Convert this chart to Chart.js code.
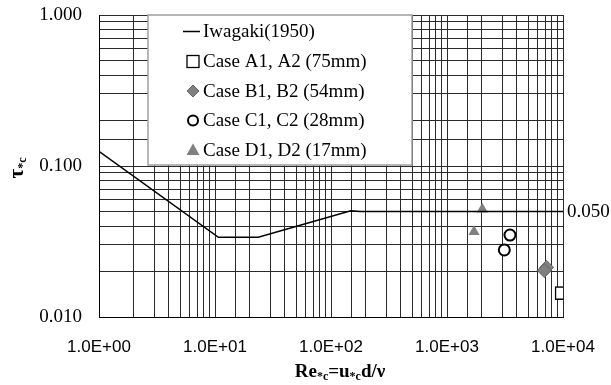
<!DOCTYPE html>
<html>
<head>
<meta charset="utf-8">
<script src="https://cdn.jsdelivr.net/npm/chart.js@4.4.1/dist/chart.umd.min.js"></script>
<style>
  html, body { margin: 0; padding: 0; background: #fff; }
  #wrap { width: 611px; height: 385px; position: relative; }
</style>
</head>
<body>
<div id="wrap"><canvas id="c"></canvas></div>
<script>
// 이와가키 곡선 (Re*c, τ*c)
const iwagakiRe  = [1, 10.7, 23.6, 148, 178, 10000];
const iwagakiTau = [0.125, 0.0337, 0.0337, 0.0506, 0.050, 0.050];

// 실험 케이스 (두 점씩)
const caseARe  = [9750, 9720];
const caseATau = [0.01435, 0.0144];
const caseBRe  = [7230, 6900];
const caseBTau = [0.0213, 0.0203];
const caseCRe  = [3490, 3120];
const caseCTau = [0.0349, 0.0278];
const caseDRe  = [2015, 1710];
const caseDTau = [0.0517, 0.0367];

const legendLabels = [
  'Iwagaki(1950)',
  'Case A1, A2 (75mm)',
  'Case B1, B2 (54mm)',
  'Case C1, C2 (28mm)',
  'Case D1, D2 (17mm)',
];
const refLevel = 0.05;
const refLabel = '0.050';

const SERIF = '"Liberation Serif", "Times New Roman", serif';
const SANS = '"Liberation Sans", Arial, sans-serif';

function pts(xs, ys) {
  return xs.map((x, i) => ({ x, y: ys[i] }));
}

function isPow10(v) {
  const l = Math.log10(v);
  return Math.abs(l - Math.round(l)) < 1e-9;
}

// 스케일이 요구하는 여백 제거 → 차트 영역을 padding 으로만 결정
function zeroPad(s) {
  s.paddingTop = 0;
  s.paddingBottom = 0;
  s.paddingLeft = 0;
  s.paddingRight = 0;
}

// 범례 기호 직접 그리기
function drawSymbol(ctx, kind, x, y) {
  ctx.save();
  if (kind === 'line') {
    ctx.strokeStyle = '#000';
    ctx.lineWidth = 1.5;
    ctx.beginPath();
    ctx.moveTo(x - 10, y);
    ctx.lineTo(x + 7, y);
    ctx.stroke();
  } else if (kind === 'square') {
    ctx.fillStyle = '#fff';
    ctx.strokeStyle = '#000';
    ctx.lineWidth = 1.3;
    ctx.fillRect(x - 6, y - 6, 12, 12);
    ctx.strokeRect(x - 6, y - 6, 12, 12);
  } else if (kind === 'diamond') {
    ctx.fillStyle = '#808080';
    ctx.strokeStyle = '#666';
    ctx.lineWidth = 1;
    ctx.beginPath();
    ctx.moveTo(x, y - 6);
    ctx.lineTo(x + 6, y);
    ctx.lineTo(x, y + 6);
    ctx.lineTo(x - 6, y);
    ctx.closePath();
    ctx.fill();
    ctx.stroke();
  } else if (kind === 'circle') {
    ctx.strokeStyle = '#000';
    ctx.lineWidth = 2;
    ctx.beginPath();
    ctx.arc(x, y, 5, 0, Math.PI * 2);
    ctx.stroke();
  } else if (kind === 'triangle') {
    ctx.fillStyle = '#808080';
    ctx.beginPath();
    ctx.moveTo(x, y - 6.5);
    ctx.lineTo(x + 6.5, y + 5);
    ctx.lineTo(x - 6.5, y + 5);
    ctx.closePath();
    ctx.fill();
  }
  ctx.restore();
}

// 아래첨자 포함 텍스트 조각 그리기
function drawRich(ctx, parts, x, y, align) {
  let total = 0;
  parts.forEach(p => { ctx.font = p.font; total += ctx.measureText(p.t).width; });
  let cx = align === 'center' ? x - total / 2 : x;
  parts.forEach(p => {
    ctx.font = p.font;
    ctx.fillText(p.t, cx, y + (p.dy || 0));
    cx += ctx.measureText(p.t).width;
  });
}

const decorPlugin = {
  id: 'decor',
  afterDatasetsDraw(chart) {
    const { ctx, chartArea, scales } = chart;
    ctx.save();

    // 범례 박스
    const bx = 148, by = chartArea.top, bw = 264, bh = 150;
    ctx.fillStyle = '#fff';
    ctx.fillRect(bx, by, bw, bh);
    ctx.strokeStyle = '#a0a0a0';
    ctx.lineWidth = 1.5;
    ctx.strokeRect(bx, by, bw, bh);

    const kinds = ['line', 'square', 'diamond', 'circle', 'triangle'];
    const rowY = [31.5, 61.5, 91, 120.5, 150];
    ctx.textBaseline = 'middle';
    ctx.textAlign = 'left';
    kinds.forEach((k, i) => {
      drawSymbol(ctx, k, 193, rowY[i]);
      ctx.fillStyle = '#000';
      ctx.font = '19px ' + SERIF;
      ctx.fillText(legendLabels[i], 203, rowY[i] + 1);
    });

    // 0.050 라벨
    ctx.fillStyle = '#000';
    ctx.font = '19px ' + SERIF;
    ctx.fillText(refLabel, chartArea.right + 4, scales.y.getPixelForValue(refLevel) + 1);

    // x축 제목
    ctx.textBaseline = 'alphabetic';
    const big = 'bold 19px ' + SERIF;
    const sub = 'bold 12px ' + SERIF;
    drawRich(ctx, [
      { t: 'Re', font: big },
      { t: '*c', font: sub, dy: 3 },
      { t: '=u', font: big },
      { t: '*c', font: sub, dy: 3 },
      { t: 'd/ν', font: big },
    ], 340, 377, 'center');

    // y축 제목 (회전)
    ctx.translate(23, 168);
    ctx.rotate(-Math.PI / 2);
    drawRich(ctx, [
      { t: 'τ', font: 'bold 21px ' + SERIF },
      { t: '*c', font: 'bold 12px ' + SERIF, dy: 3 },
    ], 0, 0, 'center');

    ctx.restore();
  },
};

new Chart(document.getElementById('c'), {
  type: 'scatter',
  data: {
    datasets: [
      {
        label: legendLabels[0],
        data: pts(iwagakiRe, iwagakiTau),
        showLine: true,
        borderColor: '#000',
        borderWidth: 1.5,
        pointRadius: 0,
        tension: 0,
      },
      {
        label: legendLabels[1],
        data: pts(caseARe, caseATau),
        pointStyle: 'rect',
        pointRadius: 8.5,
        backgroundColor: '#fff',
        borderColor: '#000',
        borderWidth: 1.3,
      },
      {
        label: legendLabels[2],
        data: pts(caseBRe, caseBTau),
        pointStyle: 'rectRot',
        pointRadius: 7,
        backgroundColor: '#808080',
        borderColor: '#666',
        borderWidth: 1,
      },
      {
        label: legendLabels[3],
        data: pts(caseCRe, caseCTau),
        pointStyle: 'circle',
        pointRadius: 5.5,
        backgroundColor: '#fff',
        borderColor: '#000',
        borderWidth: 2,
      },
      {
        label: legendLabels[4],
        data: pts(caseDRe, caseDTau),
        pointStyle: 'triangle',
        pointRadius: 6.5,
        backgroundColor: '#808080',
        borderColor: '#808080',
        borderWidth: 0,
      },
    ],
  },
  options: {
    responsive: true,
    maintainAspectRatio: false,
    animation: false,
    layout: { padding: { left: 0, top: 15, right: 48, bottom: 0 } },
    plugins: {
      legend: { display: false },
      tooltip: { enabled: false },
    },
    scales: {
      x: {
        type: 'logarithmic',
        min: 1,
        max: 10000,
        afterFit: (s) => { s.height = 68; zeroPad(s); },
        grid: { color: '#2a2a2a', lineWidth: 1, drawTicks: false },
        border: { display: true, color: '#000', width: 1 },
        ticks: {
          autoSkip: false,
          maxRotation: 0,
          padding: 20,
          color: '#000',
          font: { family: SANS, size: 17 },
          callback: (v) => {
            if (!isPow10(v)) return '';
            const e = Math.round(Math.log10(v));
            return '1.0E+' + String(e).padStart(2, '0');
          },
        },
      },
      y: {
        type: 'logarithmic',
        min: 0.01,
        max: 1,
        afterFit: (s) => { s.width = 99; zeroPad(s); },
        grid: { color: '#2a2a2a', lineWidth: 1, drawTicks: false },
        border: { display: true, color: '#000', width: 1 },
        ticks: {
          autoSkip: false,
          padding: 17,
          color: '#000',
          font: { family: SERIF, size: 19 },
          callback: (v) => (isPow10(v) ? Number(v).toFixed(3) : ''),
        },
      },
    },
  },
  plugins: [decorPlugin],
});
</script>
</body>
</html>
